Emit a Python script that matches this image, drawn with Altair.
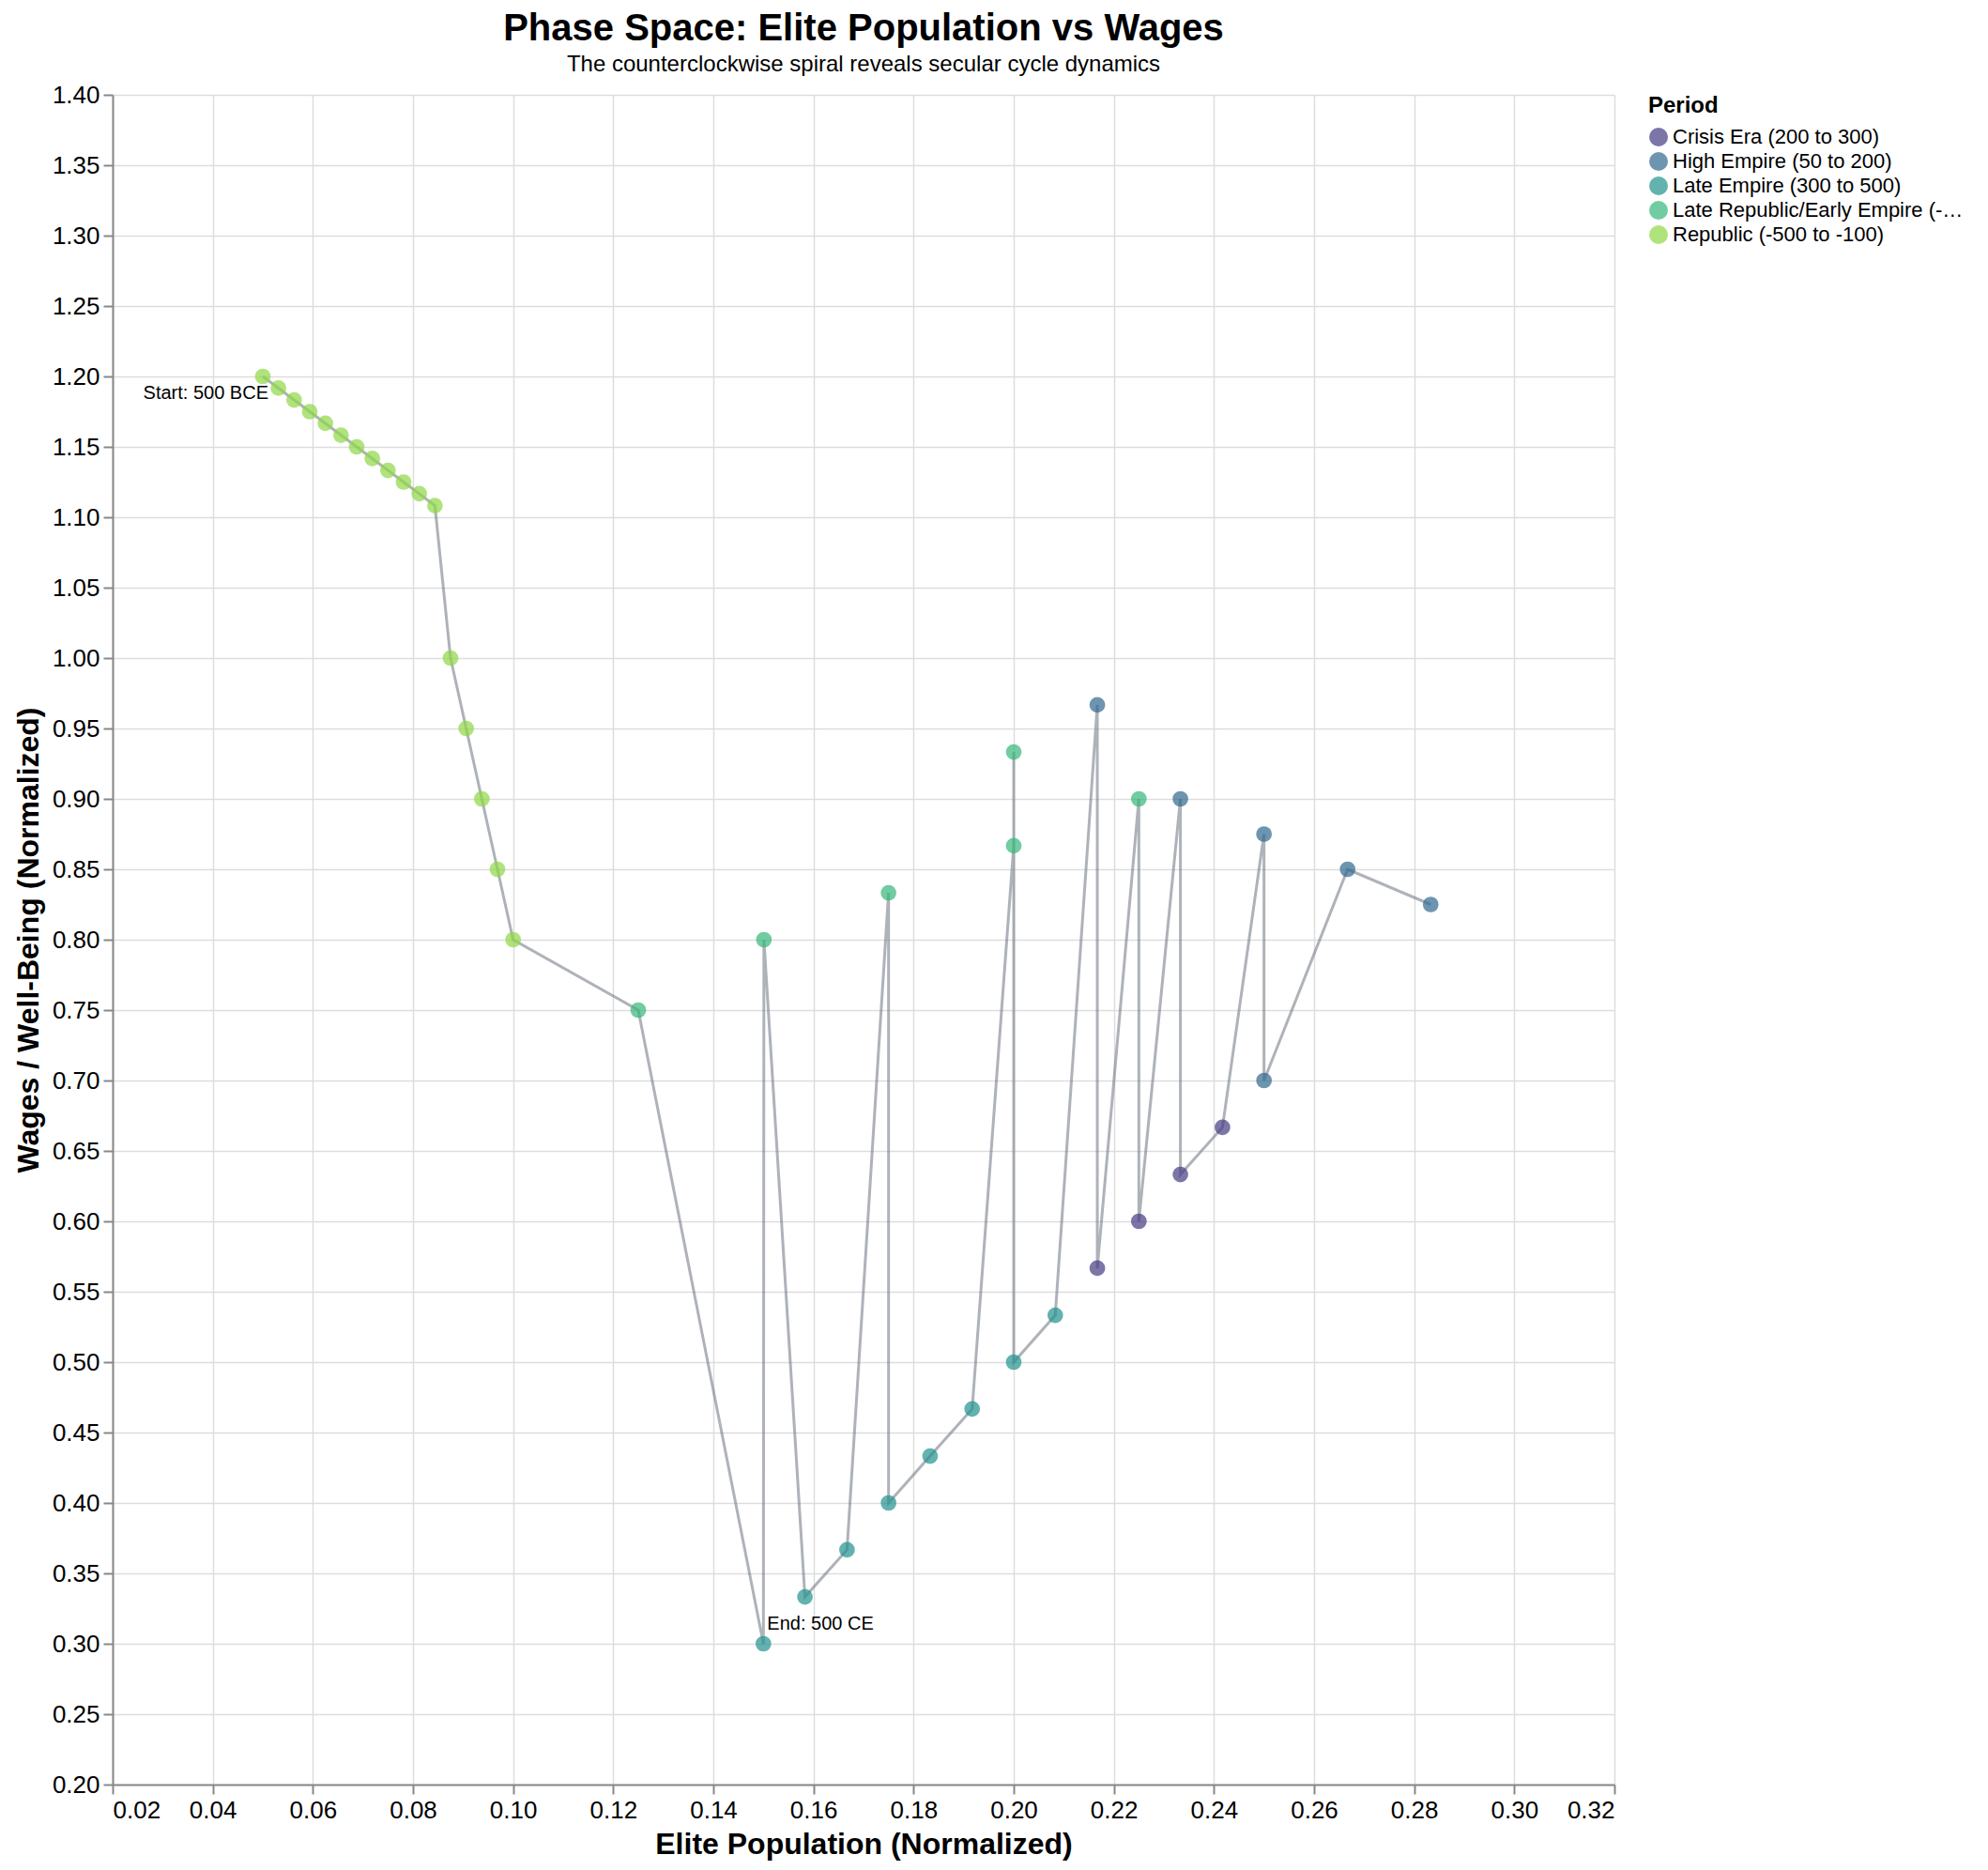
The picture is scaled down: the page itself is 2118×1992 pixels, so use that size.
import altair as alt
import pandas as pd

FONT = "Liberation Sans"

period_names = [
    "Republic (-500 to -100)",
    "Late Republic/Early Empire (-100 to 50)",
    "High Empire (50 to 200)",
    "Crisis Era (200 to 300)",
    "Late Empire (300 to 500)",
]
period_counts = [17, 6, 6, 4, 8]

years = list(range(-500, 501, 25))

elite = [
    # Republic
    0.05, 0.053125, 0.05625, 0.059375, 0.0625, 0.065625, 0.06875, 0.071875,
    0.075, 0.078125, 0.08125, 0.084375, 0.0875, 0.090625, 0.09375, 0.096875, 0.1,
    # Late Republic / Early Empire
    0.125, 0.1501, 0.175, 0.2, 0.2, 0.225,
    # High Empire
    0.2167, 0.2333, 0.25, 0.2667, 0.2833, 0.25,
    # Crisis Era
    0.2417, 0.2333, 0.225, 0.2167,
    # Late Empire
    0.2083, 0.2, 0.1917, 0.1833, 0.175, 0.1667, 0.1583, 0.15,
]

wages = [
    # Republic
    1.2, 1.1917, 1.1833, 1.175, 1.1667, 1.1583, 1.15, 1.1417,
    1.1333, 1.125, 1.1167, 1.1083, 1.0, 0.95, 0.9, 0.85, 0.8,
    # Late Republic / Early Empire
    0.75, 0.8, 0.8333, 0.8667, 0.9333, 0.9,
    # High Empire
    0.9667, 0.9, 0.875, 0.85, 0.825, 0.7,
    # Crisis Era
    0.6667, 0.6333, 0.6, 0.5667,
    # Late Empire
    0.5333, 0.5, 0.4667, 0.4333, 0.4, 0.3667, 0.3333, 0.3,
]

period = []
for name, n in zip(period_names, period_counts):
    period += [name] * n

df = pd.DataFrame({"Year": years, "Elite": elite, "Wages": wages, "Period": period})

annot = pd.DataFrame({
    "Elite": [elite[0], elite[-1]],
    "Wages": [wages[0], wages[-1]],
    "label": ["Start: 500 BCE", "End: 500 CE"],
})

x_enc = alt.X("Elite:Q", title="Elite Population (Normalized)",
              scale=alt.Scale(domain=[0.02, 0.32], zero=False, nice=False),
              axis=alt.Axis(format=".2f", tickCount=20))
y_enc = alt.Y("Wages:Q", title="Wages / Well-Being (Normalized)",
              scale=alt.Scale(domain=[0.2, 1.4], zero=False, nice=False),
              axis=alt.Axis(format=".2f", tickCount=22))

base = alt.Chart(df)

line = base.mark_line(color="#6b7280", opacity=0.55, strokeWidth=3).encode(x=x_enc, y=y_enc)

points = base.mark_circle(size=280, opacity=0.7).encode(
    x=x_enc, y=y_enc,
    color=alt.Color("Period:N", title="Period", scale=alt.Scale(scheme="viridis")),
)

start_text = alt.Chart(annot.iloc[[0]]).mark_text(
    align="right", baseline="middle", dx=6, dy=18, fontSize=20, font=FONT, color="black"
).encode(x="Elite:Q", y="Wages:Q", text="label:N")

end_text = alt.Chart(annot.iloc[[1]]).mark_text(
    align="left", baseline="middle", dx=4, dy=-21, fontSize=20, font=FONT, color="black"
).encode(x="Elite:Q", y="Wages:Q", text="label:N")

chart = alt.layer(line, points, start_text, end_text).properties(
    width=1600,
    height=1800,
    padding={"left": 6, "top": 3, "right": 2, "bottom": 2},
    title=alt.TitleParams(
        text="Phase Space: Elite Population vs Wages",
        subtitle="The counterclockwise spiral reveals secular cycle dynamics",
        fontSize=40, subtitleFontSize=24, anchor="middle", offset=7,
        subtitlePadding=6, font=FONT, subtitleFont=FONT,
        color="black", subtitleColor="black",
    ),
).configure(font=FONT).configure_axis(
    labelFontSize=26, titleFontSize=32, tickSize=10, labelPadding=4,
    titlePadding=8, gridWidth=1.5, domainWidth=2, tickWidth=2,
    labelFont=FONT, titleFont=FONT, labelColor="black", titleColor="black",
).configure_legend(
    titleFontSize=24, labelFontSize=22, symbolSize=400, rowPadding=4,
    offset=36, labelLimit=320, titlePadding=10, labelFont=FONT, titleFont=FONT,
    labelColor="black", titleColor="black", symbolType="circle",
).configure_view(stroke=None)

chart.save("out.html", embed_options={"renderer": "svg", "actions": False})
